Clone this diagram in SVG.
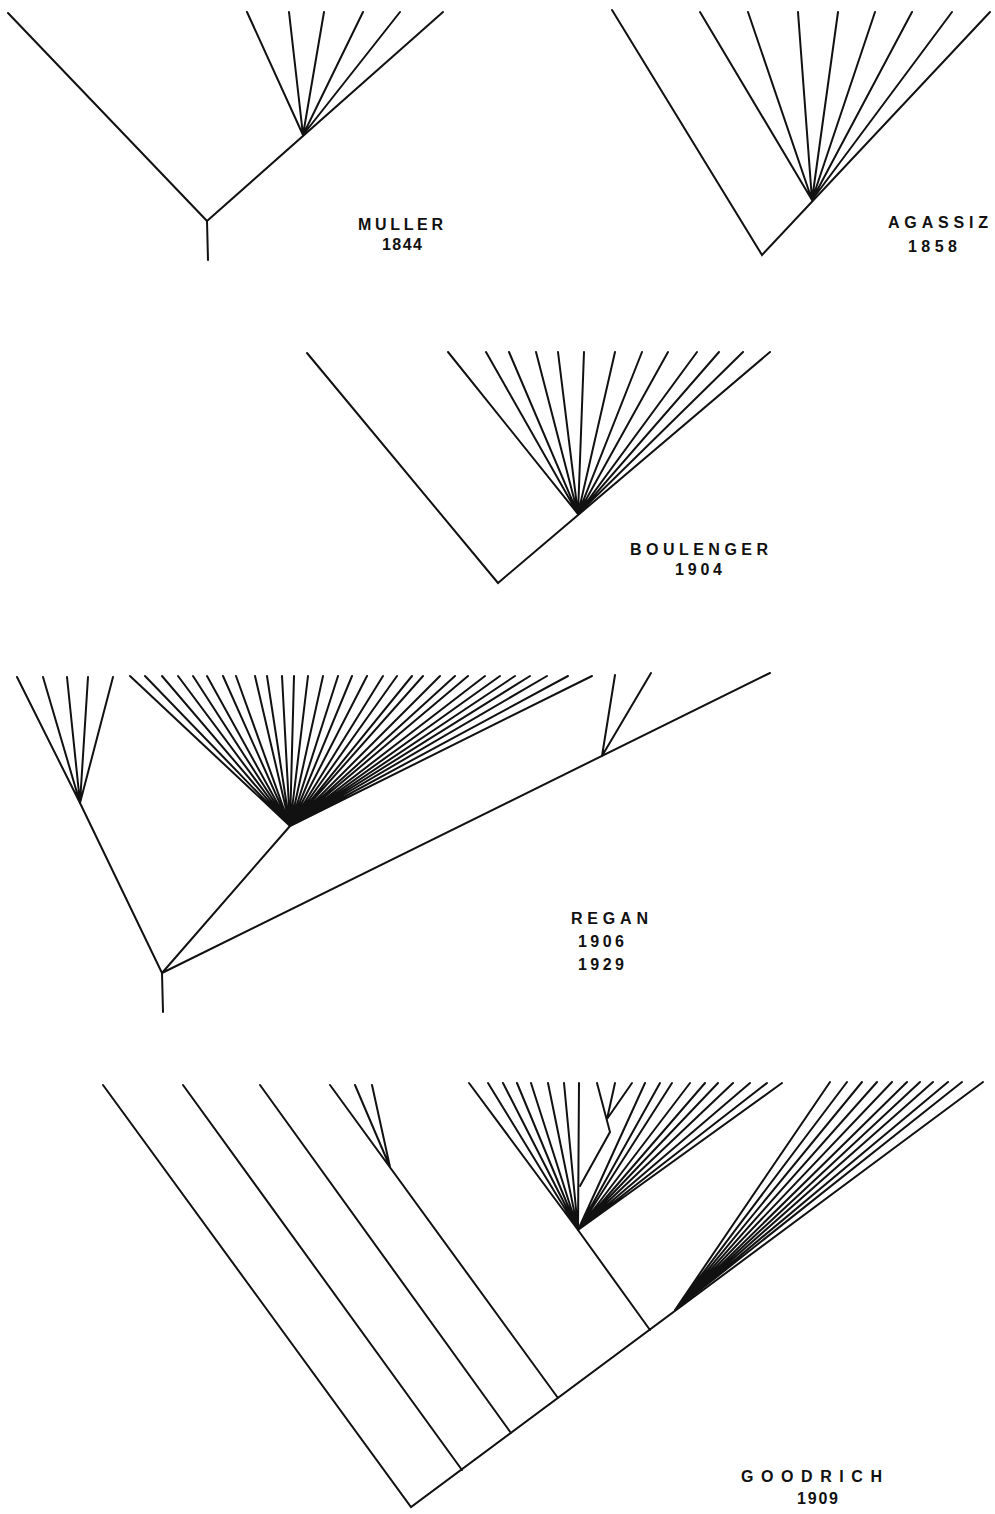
<svg xmlns="http://www.w3.org/2000/svg" width="995" height="1514" viewBox="0 0 995 1514">
<style>
.e{stroke:#111;stroke-width:2;stroke-linecap:round;fill:none}
.l{font-family:"Liberation Sans",Arial,sans-serif;font-size:16px;font-weight:bold;fill:#111}
</style>
<rect width="995" height="1514" fill="#fff"/>
<g id="connectors" class="e">
<!-- Muller -->
<path d="M8,13L207,221L208,260M207,221L443,12"/>
<path d="M303,135L247,12M303,135L289,12M303,135L324,12M303,135L363,12M303,135L400,12"/>
<!-- Agassiz -->
<path d="M612,10L762,255L990,12"/>
<path d="M812,200L700,12M812,200L748,12M812,200L798,12M812,200L838,12M812,200L875,12M812,200L912,12M812,200L952,12"/>
<!-- Boulenger -->
<path d="M307,353L498,583L770,352"/>
<path d="M578,514L448,352M578,514L486,352M578,514L509,352M578,514L536,352M578,514L558,352M578,514L584,352M578,514L615,352M578,514L642,352M578,514L668,352M578,514L697,352M578,514L719,352M578,514L743,352"/>
<!-- Regan -->
<path d="M80,803L17,677M80,803L43,677M80,803L67,677M80,803L88,677M80,803L113,677"/>
<path d="M80,803L162,973L163,1012M162,973L290,826M162,973L770,673M602,756L615,675M602,756L651,673"/>
<path d="M290,826L130,676M290,826L145,676M290,826L162,676M290,826L178,676M290,826L193,676M290,826L207,676M290,826L223,676M290,826L236,676M290,826L255,676M290,826L267,676M290,826L282,676M290,826L294,676M290,826L308,676M290,826L323,676M290,826L338,676M290,826L352,676M290,826L367,676M290,826L383,676M290,826L397,676M290,826L412,676M290,826L423,676M290,826L440,676M290,826L455,676M290,826L468,676M290,826L485,676M290,826L500,676M290,826L515,676M290,826L530,676M290,826L547,676M290,826L568,676M290,826L592,676"/>
<!-- Goodrich -->
<path d="M103,1085L411,1507L983,1082M183,1085L462,1470M260,1085L511,1433M330,1085L558,1398M390,1167L355,1085M390,1167L372,1085M578,1230L650,1330"/>
<path d="M578,1230L469,1083M578,1230L488,1083M578,1230L503,1083M578,1230L517,1083M578,1230L531,1083M578,1230L548,1083M578,1230L564,1083M578,1230L579,1083M578,1230L645,1083M578,1230L660,1083M578,1230L672,1083M578,1230L690,1083M578,1230L705,1083M578,1230L718,1083M578,1230L733,1083M578,1230L750,1083M578,1230L767,1083M578,1230L782,1083"/>
<path d="M580,1186L610,1132L597,1083M607,1119L615,1083M607,1119L632,1083"/>
<path d="M675,1310L830,1082M675,1310L847,1082M675,1310L862,1082M675,1310L877,1082M675,1310L892,1082M675,1310L907,1082M675,1310L920,1082M675,1310L933,1082M675,1310L948,1082M675,1310L962,1082"/>
</g>
<g id="muller"><text class="l" x="358" y="230" textLength="85" lengthAdjust="spacing">MULLER</text><text class="l" x="382" y="250" textLength="40" lengthAdjust="spacing">1844</text></g>
<g id="agassiz"><text class="l" x="888" y="228" textLength="100" lengthAdjust="spacing">AGASSIZ</text><text class="l" x="908" y="252" textLength="49" lengthAdjust="spacing">1858</text></g>
<g id="boulenger"><text class="l" x="630" y="555" textLength="138" lengthAdjust="spacing">BOULENGER</text><text class="l" x="675" y="575" textLength="47" lengthAdjust="spacing">1904</text></g>
<g id="regan"><text class="l" x="571" y="924" textLength="77" lengthAdjust="spacing">REGAN</text><text class="l" x="578" y="947" textLength="46" lengthAdjust="spacing">1906</text><text class="l" x="578" y="970" textLength="46" lengthAdjust="spacing">1929</text></g>
<g id="goodrich"><text class="l" x="741" y="1482" textLength="141" lengthAdjust="spacing">GOODRICH</text><text class="l" x="797" y="1504" textLength="41" lengthAdjust="spacing">1909</text></g>
</svg>
